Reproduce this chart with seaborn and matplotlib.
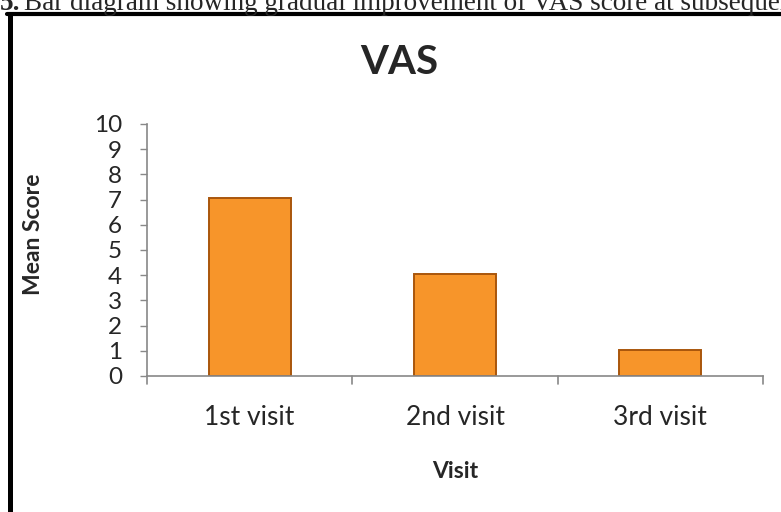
import numpy as np
import pandas as pd
import matplotlib.pyplot as plt
import seaborn as sns
from matplotlib.lines import Line2D

# data
visits = ['1st visit', '2nd visit', '3rd visit']
mean_score = [7.05, 4.05, 1.05]
y_ticks = list(range(0, 11))

df = pd.DataFrame({'Visit': visits, 'Mean Score': mean_score})

sns.set_theme(style='white')
plt.rcParams['font.family'] = ['Lato', 'DejaVu Sans']

W, H = 781, 512
fig = plt.figure(figsize=(W / 100, H / 100), dpi=100)
ax = fig.add_axes([147 / W, 1 - 376 / H, (763 - 147) / W, (376 - 124) / H])

sns.barplot(data=df, x='Visit', y='Mean Score', color='#F7952A', width=0.4,
            edgecolor='#A9560C', linewidth=1.4, saturation=1, ax=ax)

ax.set_ylim(0, 10)
ax.set_xlim(-0.5, 2.5)
ax.set_yticks(y_ticks)
ax.tick_params(axis='y', labelsize=17.5, length=5, width=1, color='#888888',
               direction='out', left=True, pad=13)
ax.tick_params(axis='x', labelsize=19, length=0, pad=21)
ax.set_xticks(range(3))
ax.set_xticklabels(visits)
# category boundary ticks like Excel
for xb in [-0.5, 0.5, 1.5, 2.5]:
    ax.plot([xb, xb], [0, -0.3], color='#888888', lw=1.2, clip_on=False)

for s in ['top', 'right']:
    ax.spines[s].set_visible(False)
for s in ['left', 'bottom']:
    ax.spines[s].set_color('#888888')
    ax.spines[s].set_linewidth(1.2)

ax.set_xlabel('')
ax.set_ylabel('')
fig.text(455 / W, 1 - 471 / H, 'Visit', ha='center', va='center',
         fontsize=16.5, fontweight='bold')
fig.text(33 / W, 1 - 234 / H, 'Mean Score', ha='center', va='center',
         rotation=90, fontsize=16.5, fontweight='bold')
fig.text(399 / W, 1 - 62 / H, 'VAS', ha='center', va='center',
         fontsize=29, fontweight='bold')

# caption line from the page, cut at top
fig.text(0, 1 - 9.5 / H, '5.', ha='left', va='baseline', fontsize=19.5,
         fontweight='bold', family='Liberation Serif')
fig.text(24 / W, 1 - 9.5 / H,
         'Bar diagram showing gradual improvement of VAS score at subsequent visits',
         ha='left', va='baseline', fontsize=19.5, family='Liberation Serif')

# black frame around the chart
fig.add_artist(Line2D([9.5 / W, 9.5 / W], [0, 1 - 14 / H], color='black', lw=3.6,
                      transform=fig.transFigure))
fig.add_artist(Line2D([7 / W, 1], [1 - 14 / H, 1 - 14 / H], color='black', lw=3.0,
                      transform=fig.transFigure))

fig.savefig('out.png', dpi=100, facecolor='white')
